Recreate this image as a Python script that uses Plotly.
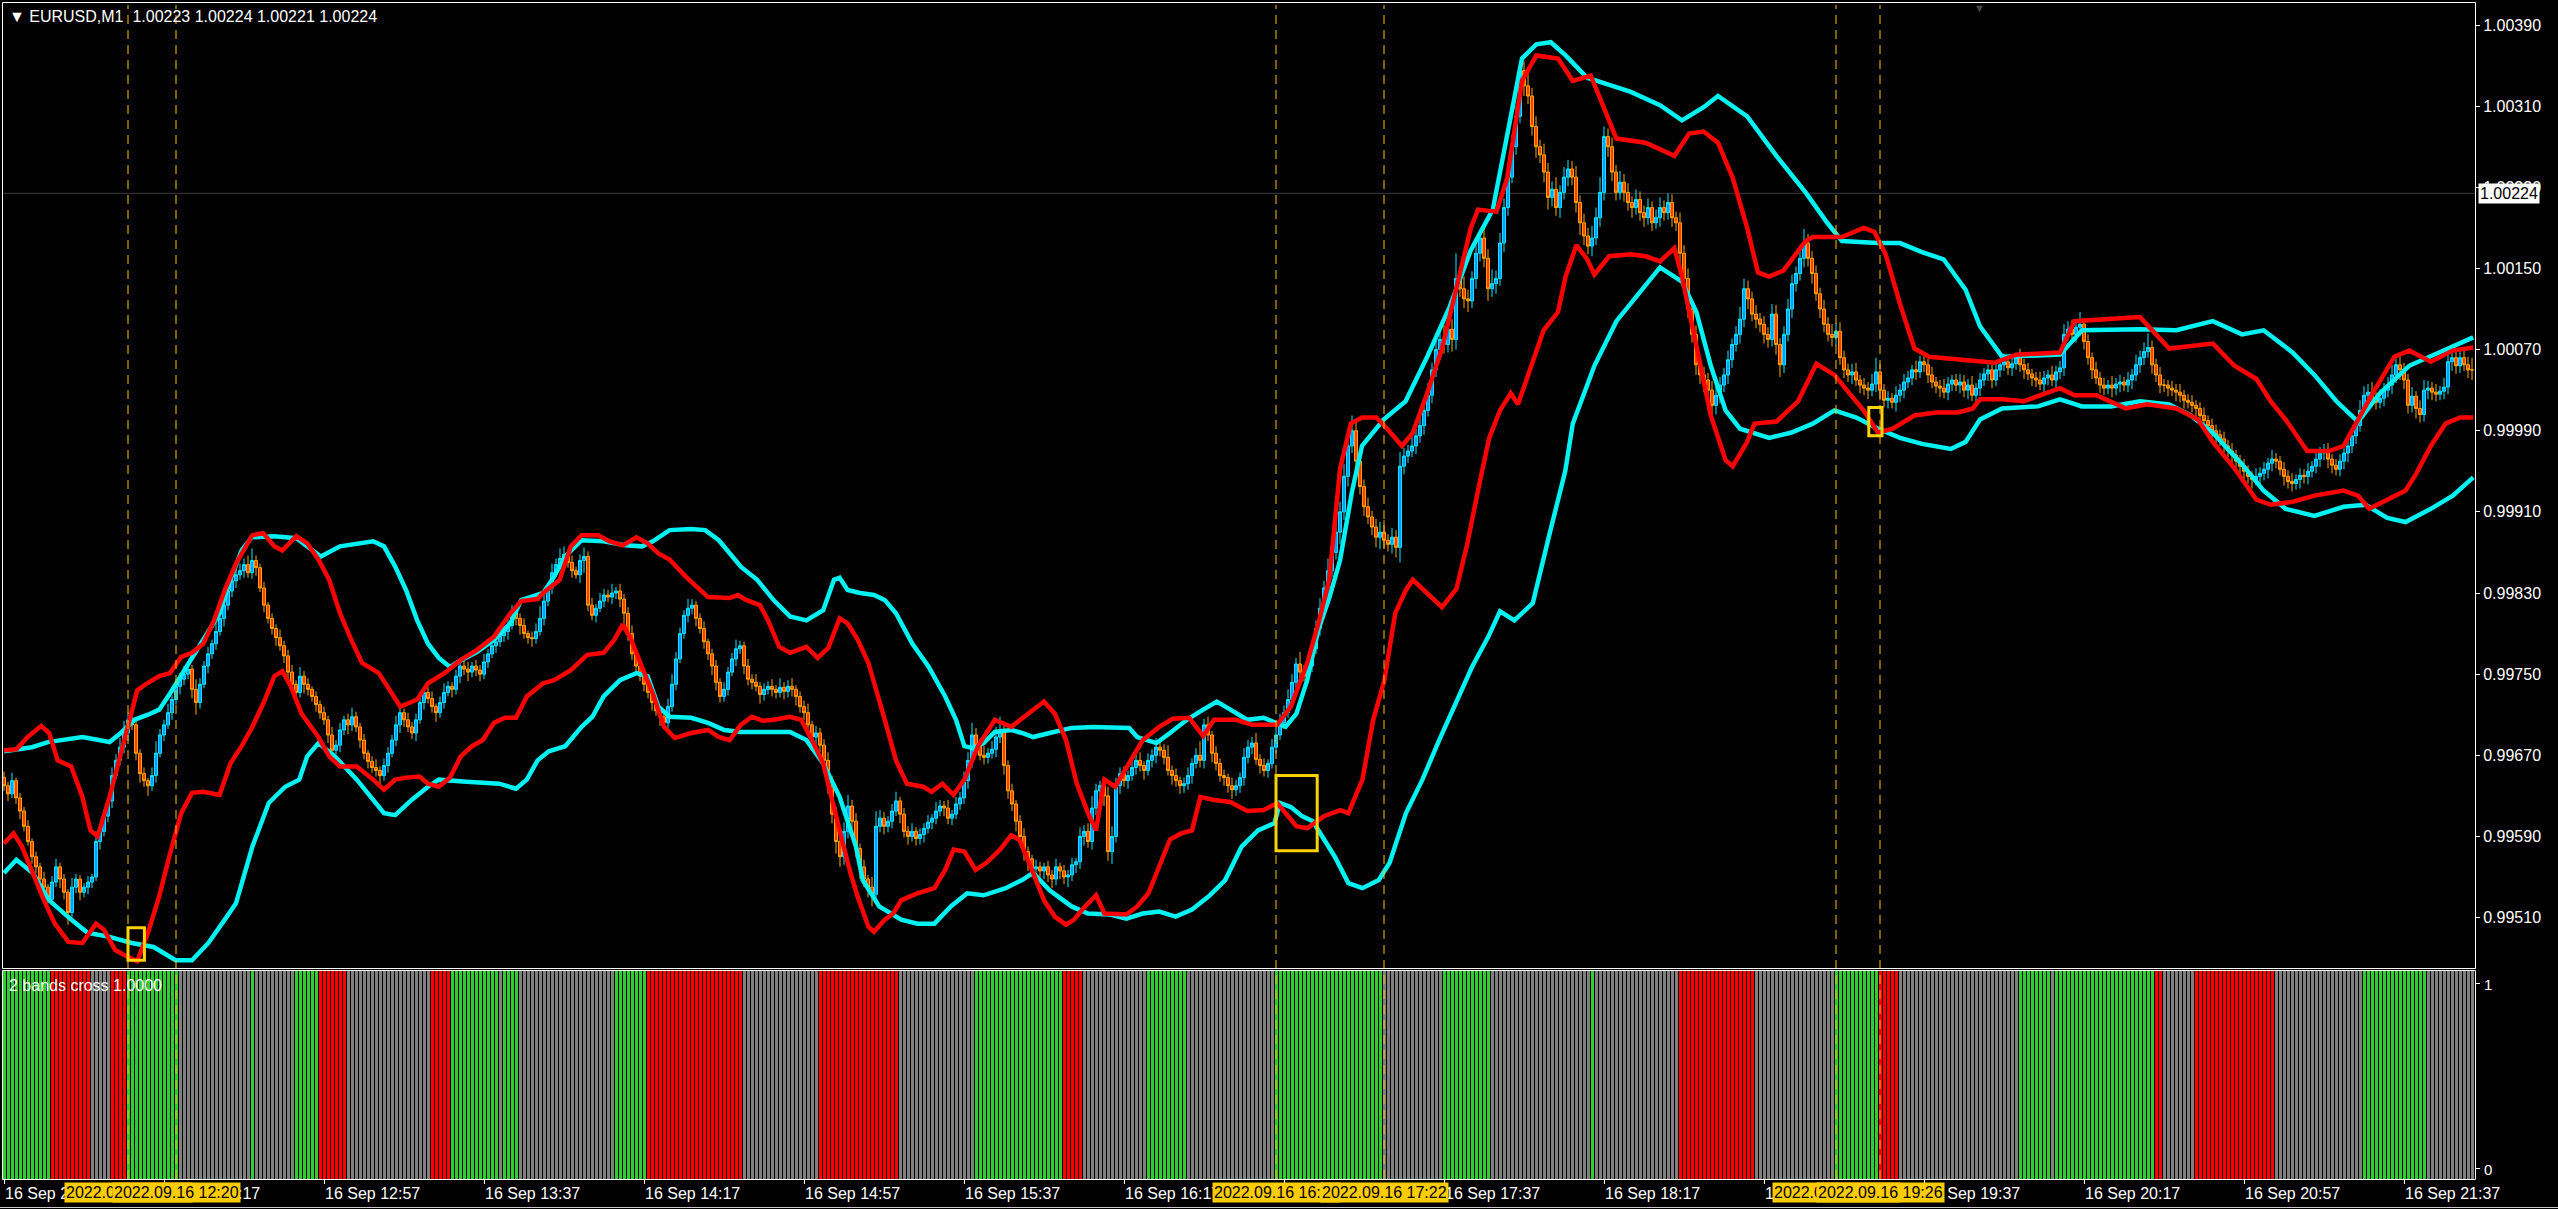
import plotly.graph_objects as go

W, H = 2558, 1209


def px(x):
    return x / W


def py(y):
    return 1 - y / H


def to_price(p):
    return round(0.99 + p * 1e-5, 6)


# ---------------- data (prices in points above 0.99000) ----------------
first_open_pts = 648
close_pts = [
    640, 632, 645, 628, 615, 600, 585, 570, 560, 548, 540, 528, 545, 560, 548, 535, 515, 540, 548, 535,
    540, 545, 550, 585, 595, 610, 625, 650, 665, 678, 692, 705, 700, 672, 652, 645, 640, 650, 672, 690,
    700, 712, 725, 738, 745, 750, 755, 735, 722, 740, 758, 770, 780, 792, 805, 818, 832, 842, 848, 852,
    858, 850, 862, 855, 835, 818, 805, 795, 786, 778, 768, 752, 740, 732, 748, 740, 735, 728, 720, 712,
    705, 690, 675, 680, 695, 705, 700, 708, 698, 685, 672, 664, 658, 655, 650, 660, 672, 685, 700, 712,
    705, 698, 692, 705, 722, 732, 726, 718, 712, 722, 732, 738, 735, 748, 758, 755, 752, 758, 754, 750,
    762, 770, 778, 782, 788, 792, 798, 812, 805, 798, 790, 786, 785, 792, 805, 822, 835, 850, 858, 864,
    868, 860, 852, 848, 862, 866, 818, 808, 815, 822, 828, 826, 830, 832, 824, 810, 790, 770, 758, 748,
    740, 732, 722, 714, 708, 702, 718, 740, 765, 790, 808, 815, 818, 805, 795, 782, 770, 758, 742, 728,
    735, 752, 765, 775, 778, 758, 745, 742, 738, 730, 735, 738, 735, 732, 737, 733, 738, 735, 728, 718,
    712, 700, 688, 692, 680, 665, 640, 612, 585, 570, 595, 620, 605, 578, 560, 548, 540, 533, 600, 608,
    600, 605, 615, 625, 612, 595, 590, 595, 588, 592, 598, 604, 608, 615, 620, 618, 608, 612, 622, 628,
    645, 665, 690, 680, 670, 668, 672, 676, 688, 694, 660, 635, 622, 605, 590, 575, 568, 558, 560, 556,
    560, 552, 548, 560, 556, 550, 552, 562, 565, 590, 595, 585, 618, 635, 640, 630, 575, 590, 640, 652,
    645, 650, 658, 665, 660, 655, 665, 670, 678, 675, 668, 655, 650, 645, 640, 642, 650, 662, 670, 665,
    700, 690, 672, 662, 650, 648, 640, 636, 640, 648, 668, 678, 682, 666, 660, 655, 662, 678, 690, 702,
    712, 725, 742, 760, 752, 748, 758, 775, 795, 815, 835, 852, 870, 890, 910, 945, 975, 990, 960, 935,
    915, 905, 895, 885, 890, 882, 878, 885, 875, 955, 965, 970, 975, 985, 995, 1010, 1025, 1050, 1070, 1080,
    1075, 1090, 1080, 1140, 1130, 1120, 1118, 1140, 1165, 1180, 1160, 1130, 1135, 1140, 1175, 1210, 1240, 1270, 1300, 1345,
    1330, 1320, 1290, 1270, 1262, 1245, 1220, 1228, 1210, 1225, 1240, 1248, 1240, 1215, 1195, 1182, 1172, 1180, 1200, 1225,
    1280, 1270, 1245, 1225, 1235, 1225, 1215, 1210, 1218, 1205, 1200, 1210, 1195, 1200, 1210, 1205, 1215, 1200, 1195, 1165,
    1140, 1110, 1085, 1055, 1045, 1040, 1030, 1015, 1025, 1035, 1045, 1060, 1075, 1085, 1100, 1130, 1120, 1105, 1100, 1095,
    1085, 1080, 1105, 1075, 1055, 1085, 1110, 1135, 1145, 1160, 1175, 1160, 1145, 1125, 1110, 1095, 1085, 1082, 1088, 1062,
    1050, 1045, 1048, 1040, 1035, 1032, 1030, 1036, 1048, 1030, 1020, 1022, 1018, 1025, 1030, 1038, 1042, 1050, 1048, 1058,
    1055, 1045, 1038, 1034, 1032, 1028, 1036, 1040, 1035, 1038, 1030, 1035, 1025, 1032, 1040, 1046, 1050, 1040, 1050, 1055,
    1058, 1052, 1056, 1062, 1055, 1050, 1046, 1042, 1040, 1036, 1042, 1045, 1040, 1048, 1052, 1085, 1090, 1085, 1092, 1095,
    1078, 1062, 1050, 1042, 1035, 1032, 1035, 1032, 1036, 1038, 1035, 1040, 1045, 1055, 1062, 1068, 1072, 1055, 1045, 1035,
    1035, 1032, 1030, 1028, 1025, 1020, 1018, 1015, 1012, 1005, 1000, 995, 990, 986, 982, 975, 970, 966, 960, 955,
    950, 945, 942, 945, 948, 952, 958, 962, 960, 952, 945, 940, 938, 942, 946, 945, 950, 955, 962, 968,
    970, 962, 956, 952, 960, 968, 975, 985, 995, 1010, 1025, 1028, 1022, 1018, 1022, 1030, 1035, 1045, 1055, 1050,
    1040, 1015, 1024, 1012, 1006, 1030, 1032, 1028, 1026, 1029, 1033, 1058, 1062, 1054, 1062, 1055, 1050, 1050,
]
hi_wick_pts = [
    6, 4, 8, 3, 5, 4, 6, 3, 5, 4, 7, 3, 6, 8, 4, 5, 3, 9, 5, 4,
    4, 6, 3, 10, 5, 7, 4, 8, 6, 9, 12, 7, 10, 5, 4, 6, 3, 8, 12, 6,
    5, 9, 4, 7, 6, 8, 5, 4, 10, 6, 5, 7, 4, 9, 5, 8, 6, 12, 5, 7,
    6, 9, 12, 5, 4, 6, 3, 5, 4, 8, 5, 6, 7, 4, 9, 5, 6, 3, 5, 4,
    6, 4, 8, 5, 7, 4, 6, 9, 5, 4, 6, 3, 5, 8, 4, 7, 6, 5, 9, 6,
    4, 7, 5, 6, 8, 4, 5, 7, 3, 6, 9, 5, 4, 6, 8, 5, 7, 4, 6, 5,
    8, 5, 6, 4, 7, 5, 9, 6, 4, 5, 7, 3, 6, 8, 12, 7, 5, 9, 6, 10,
    8, 5, 7, 4, 6, 9, 5, 7, 4, 8, 6, 5, 9, 4, 7, 5, 6, 8, 4, 5,
    6, 4, 7, 5, 3, 6, 8, 10, 7, 6, 5, 9, 6, 4, 5, 7, 3, 5, 6, 4,
    7, 5, 6, 9, 5, 4, 7, 5, 8, 4, 6, 5, 7, 4, 9, 5, 6, 8, 4, 5,
    6, 9, 4, 7, 5, 6, 8, 10, 7, 12, 9, 11, 6, 8, 5, 7, 4, 10, 15, 8,
    6, 5, 7, 9, 4, 6, 5, 8, 4, 6, 5, 7, 4, 9, 6, 5, 8, 4, 7, 6,
    9, 8, 12, 7, 6, 9, 5, 8, 10, 14, 6, 5, 7, 4, 6, 8, 5, 4, 7, 5,
    4, 6, 5, 8, 4, 6, 5, 7, 4, 9, 6, 8, 12, 7, 5, 6, 9, 10, 8, 6,
    7, 5, 9, 6, 8, 4, 7, 6, 9, 5, 6, 12, 5, 7, 4, 6, 8, 5, 7, 14,
    6, 8, 4, 7, 5, 6, 4, 8, 6, 5, 9, 7, 6, 10, 5, 7, 4, 8, 6, 9,
    7, 10, 8, 6, 12, 7, 9, 6, 8, 10, 7, 12, 9, 14, 10, 12, 8, 15, 9, 10,
    7, 9, 6, 8, 10, 12, 6, 9, 7, 14, 8, 6, 9, 7, 10, 8, 12, 7, 9, 11,
    14, 8, 10, 25, 8, 12, 9, 7, 10, 8, 12, 9, 14, 8, 10, 9, 7, 12, 10, 8,
    9, 12, 8, 10, 7, 11, 9, 8, 12, 7, 10, 9, 8, 11, 7, 9, 8, 12, 10, 15,
    10, 8, 9, 7, 11, 8, 9, 6, 10, 8, 7, 9, 6, 8, 10, 7, 9, 8, 6, 10,
    8, 10, 7, 9, 6, 8, 7, 9, 10, 8, 7, 9, 6, 8, 12, 10, 8, 7, 9, 6,
    8, 7, 10, 9, 6, 8, 10, 9, 7, 8, 14, 9, 7, 8, 6, 9, 7, 10, 8, 9,
    7, 6, 8, 9, 5, 7, 6, 10, 14, 8, 6, 7, 5, 9, 6, 8, 7, 5, 9, 6,
    7, 6, 8, 5, 6, 9, 7, 5, 6, 8, 7, 6, 9, 5, 7, 6, 8, 5, 7, 6,
    8, 6, 7, 5, 9, 6, 7, 5, 6, 8, 7, 5, 9, 6, 7, 10, 8, 9, 7, 12,
    6, 7, 5, 8, 6, 7, 5, 9, 6, 7, 5, 8, 6, 10, 7, 9, 14, 7, 6, 8,
    6, 5, 7, 6, 8, 5, 6, 7, 5, 6, 8, 5, 7, 6, 5, 7, 6, 8, 5, 6,
    7, 6, 5, 8, 6, 7, 5, 9, 6, 5, 7, 6, 8, 5, 7, 6, 8, 5, 9, 6,
    7, 8, 5, 6, 7, 9, 6, 8, 7, 10, 9, 8, 10, 6, 9, 7, 8, 10, 6, 8,
    7, 6, 9, 5, 8, 10, 7, 6, 8, 5, 9, 7, 8, 6, 9, 7, 8, 12,
]
lo_wick_pts = [
    5, 7, 4, 6, 8, 5, 4, 7, 6, 5, 8, 4, 6, 5, 9, 7, 12, 5, 6, 8,
    5, 7, 6, 4, 8, 5, 6, 7, 4, 5, 6, 8, 5, 7, 9, 6, 10, 5, 7, 4,
    6, 4, 7, 5, 8, 6, 5, 9, 12, 6, 4, 7, 5, 6, 4, 8, 5, 6, 7, 5,
    7, 5, 6, 8, 4, 7, 5, 6, 8, 5, 7, 6, 4, 8, 5, 9, 6, 5, 7, 6,
    5, 8, 6, 4, 7, 5, 9, 6, 5, 8, 6, 7, 5, 6, 9, 5, 7, 4, 6, 8,
    7, 5, 6, 8, 4, 7, 5, 6, 9, 5, 6, 4, 8, 5, 7, 6, 9, 5, 6, 7,
    5, 6, 4, 7, 5, 6, 8, 4, 7, 9, 5, 6, 8, 5, 4, 7, 5, 6, 4, 5,
    6, 5, 7, 4, 8, 12, 6, 5, 7, 4, 6, 5, 7, 6, 8, 10, 7, 6, 8, 5,
    7, 6, 8, 5, 9, 6, 7, 5, 6, 4, 5, 7, 6, 8, 5, 7, 6, 9, 8, 6,
    5, 6, 4, 7, 5, 8, 6, 7, 5, 9, 6, 5, 7, 6, 5, 8, 6, 7, 9, 6,
    7, 8, 6, 9, 7, 10, 8, 9, 12, 10, 8, 7, 10, 9, 12, 8, 10, 12, 7, 6,
    8, 6, 7, 5, 9, 6, 8, 5, 7, 6, 8, 5, 7, 6, 5, 8, 6, 7, 5, 6,
    6, 8, 7, 9, 5, 7, 6, 5, 8, 6, 9, 8, 7, 10, 6, 9, 12, 8, 7, 6,
    8, 7, 9, 6, 8, 7, 10, 6, 8, 7, 9, 6, 8, 7, 6, 10, 9, 12, 6, 8,
    6, 8, 5, 7, 6, 9, 5, 7, 8, 6, 7, 5, 9, 6, 8, 7, 6, 8, 5, 7,
    8, 6, 9, 7, 6, 8, 7, 9, 6, 7, 8, 6, 7, 5, 8, 6, 7, 5, 6, 5,
    6, 5, 7, 6, 8, 5, 7, 6, 5, 7, 6, 8, 6, 7, 12, 8, 10, 7, 9, 8,
    9, 7, 8, 10, 12, 8, 7, 9, 10, 15, 8, 7, 6, 8, 7, 9, 6, 8, 7, 10,
    9, 8, 12, 10, 8, 9, 11, 7, 10, 8, 9, 12, 8, 10, 7, 9, 8, 6, 8, 7,
    10, 8, 9, 11, 8, 10, 12, 9, 8, 10, 7, 9, 8, 10, 12, 9, 8, 10, 7, 9,
    8, 10, 9, 8, 7, 9, 8, 10, 7, 8, 9, 7, 8, 6, 9, 8, 7, 9, 8, 10,
    10, 9, 8, 10, 9, 12, 8, 10, 9, 8, 7, 9, 8, 7, 9, 8, 10, 7, 9, 8,
    9, 8, 7, 10, 12, 8, 7, 9, 8, 7, 9, 8, 10, 7, 9, 8, 7, 9, 8, 7,
    8, 7, 9, 6, 8, 7, 9, 6, 8, 10, 7, 8, 6, 9, 7, 8, 6, 7, 8, 6,
    7, 8, 6, 7, 9, 6, 8, 7, 6, 8, 7, 9, 6, 7, 8, 6, 7, 8, 6, 7,
    6, 7, 8, 6, 7, 9, 6, 8, 7, 6, 8, 7, 6, 9, 7, 8, 6, 7, 8, 9,
    8, 7, 9, 6, 8, 7, 6, 9, 7, 8, 6, 7, 9, 6, 8, 7, 6, 9, 7, 8,
    7, 8, 6, 9, 7, 8, 6, 7, 9, 8, 7, 6, 8, 9, 7, 8, 6, 9, 7, 8,
    8, 7, 9, 6, 8, 7, 9, 8, 7, 6, 9, 7, 8, 6, 9, 7, 8, 6, 7, 8,
    7, 9, 8, 6, 7, 8, 9, 7, 8, 6, 7, 9, 8, 7, 6, 8, 7, 9, 8, 10,
    9, 8, 7, 10, 8, 7, 9, 8, 7, 6, 8, 7, 9, 8, 7, 6, 8, 10,
]

# Bands: (bar position, points)
cyan_up_x = [0, 7, 11, 19.6, 23.7, 26.4, 29.2, 32.6, 36, 38.8, 41.5, 45.6, 49.8, 53.9, 56.6, 59.4, 62, 67.6, 73.1, 77.2, 79.2, 84, 89.5, 92.3, 95, 97.8, 100.5, 103.3, 106, 108.7, 111.5, 113.5, 118.3, 122.5, 126.6, 129.3, 134.8, 137.5, 140.3, 144.4, 149.9, 155.4, 159.5, 162.2, 166.4, 171.8, 175.3, 178.7, 184.2, 188.3, 192.4, 196.5, 200.6, 204.8, 207.5, 208.9, 210.9, 214, 217.5, 220.2, 223, 227.1, 231.2, 235.3, 238, 240.1, 242.2, 244.9, 247.7, 251.8, 254.5, 257.3, 261.4, 266.9, 272.3, 277.8, 281.3, 283.3, 288.1, 291.5, 295.7, 299.8, 303.2, 306.6, 310.8, 314.9, 317.6, 320.4, 323.1, 325.8, 328.6, 331.3, 334, 337, 339.5, 344.9, 350.4, 355.8, 361.3, 366.7, 372.2, 375.8, 379.5, 383.1, 386.7, 390.4, 395.8, 401.3, 406.7, 414, 419.5, 424.9, 428.5, 435.8, 443.1, 450.4, 455.8, 459.5, 468.5, 474, 479.5, 484.9, 490.4, 494, 499.5, 514, 519.5, 534, 543.1, 552.2, 559.5, 564.9, 572.2, 577.6, 583.1, 588.5, 594, 601.3, 608.5, 617.3]
cyan_up_y = [674, 678, 683, 688, 685, 683, 692, 705, 710, 715, 731, 757, 784, 810, 843, 872, 885, 886, 884, 871, 866, 876, 879, 881, 876, 856, 833, 803, 780, 766, 757, 762, 772, 784, 800, 823, 830, 846, 866, 882, 881, 877, 876, 881, 892, 893, 892, 882, 856, 843, 823, 807, 803, 813, 843, 845, 833, 830, 828, 823, 810, 780, 757, 728, 705, 679, 677, 682, 693, 695, 692, 688, 692, 697, 698, 698, 697, 688, 682, 692, 705, 715, 723, 715, 705, 707, 702, 698, 711, 744, 794, 825, 862, 930, 975, 1001, 1019, 1063, 1111, 1168, 1208, 1283, 1357, 1371, 1373, 1360, 1338, 1331, 1324, 1311, 1296, 1309, 1320, 1300, 1261, 1225, 1195, 1177, 1175, 1175, 1166, 1159, 1129, 1093, 1063, 1065, 1089, 1090, 1089, 1098, 1085, 1089, 1067, 1045, 1019, 999, 1027, 1054, 1067, 1082]

cyan_lo_x = [0, 3.1, 7.2, 11.3, 16.8, 20.9, 26.4, 31.9, 37.4, 42.9, 47, 51.1, 55.2, 58, 62.1, 66.2, 70.3, 73.8, 75.8, 78.6, 82.7, 88.2, 92.3, 95, 97.8, 101.9, 106, 108.7, 115.6, 123.8, 128, 130.7, 133.4, 136.2, 140.3, 144.4, 147.1, 149.9, 154, 158.1, 160.9, 163.6, 166.4, 171.8, 176, 180.1, 184.2, 191, 196.5, 200.6, 204.8, 208.9, 213, 214.7, 218.8, 224.3, 228.4, 232.6, 236.7, 240.8, 244.9, 250.4, 254.5, 257.3, 261.4, 266.9, 271, 276.5, 280.6, 284.7, 288.8, 292.9, 297, 301.2, 305.3, 309.4, 313.5, 317.6, 319, 321.7, 324.5, 327.2, 330, 332.7, 336.1, 339.6, 343.7, 346.4, 350.5, 354.6, 358.8, 362.9, 367, 371.1, 374, 377.6, 382.2, 386.5, 390.3, 392.2, 397.6, 403.1, 408.5, 414, 419.5, 423.1, 426.7, 430.4, 434, 441.3, 446.7, 452.2, 457.6, 463.1, 468.5, 474, 479.5, 486.7, 490.4, 494, 499.5, 508.5, 514, 519.5, 526.7, 534, 541.3, 546.7, 552.2, 559.5, 564.9, 570.4, 577.6, 584.9, 590.4, 595.8, 600.4, 606.7, 612.2, 617.3]
cyan_lo_y = [554, 567, 554, 527, 508, 495, 491, 485, 481, 468, 468, 485, 508, 524, 580, 623, 639, 646, 669, 682, 669, 646, 626, 613, 611, 626, 639, 646, 644, 642, 637, 646, 665, 674, 679, 698, 708, 728, 744, 751, 748, 718, 708, 707, 702, 695, 693, 693, 693, 685, 662, 629, 580, 547, 521, 508, 504, 504, 521, 534, 532, 539, 547, 554, 537, 521, 514, 513, 509, 514, 516, 511, 518, 531, 547, 580, 596, 603, 623, 619, 610, 605, 587, 570, 544, 539, 547, 564, 613, 646, 685, 721, 757, 787, 812, 803, 820, 890, 950, 997, 1054, 1098, 1124, 1151, 1137, 1107, 1054, 1010, 992, 983, 988, 997, 1010, 1003, 992, 983, 977, 972, 979, 1001, 1012, 1014, 1021, 1014, 1014, 1019, 1016, 1005, 988, 957, 931, 913, 906, 915, 917, 904, 900, 913, 926, 944]

red_up_x = [0, 3.1, 5.9, 9.3, 11.3, 13.4, 16.8, 19.6, 21.6, 23.4, 26.4, 28.5, 31.2, 33.3, 35.4, 38.8, 41.5, 44.3, 47, 49.8, 52.5, 55.2, 58, 62.1, 64.8, 67.6, 69.6, 73.1, 75.8, 78.6, 81.3, 84, 86.8, 89.5, 93.7, 96.4, 99.1, 103.3, 106, 110.1, 114.2, 118.3, 122.5, 126.6, 129.3, 133.4, 134.8, 138.9, 141.7, 144.4, 148.5, 151.3, 154.7, 158.1, 160.9, 163.6, 166.4, 170.5, 176, 181.4, 183.5, 185.6, 189, 191, 193.8, 196.5, 200.6, 203.4, 206.1, 208.9, 210.9, 213.4, 216.1, 220.2, 223, 225.7, 229.8, 231.9, 234.6, 237.4, 240.1, 243.5, 247.7, 251.8, 255.9, 260, 262.7, 265.5, 268.2, 271, 273, 275.1, 277.8, 281.3, 284.7, 288.8, 292.2, 296.3, 299.8, 302.5, 308, 312.1, 318.3, 321.7, 325.8, 328.6, 331.3, 334, 336.7, 339.5, 343.1, 345.8, 349.5, 352.2, 355.8, 359.5, 363.1, 366.7, 368.5, 373.1, 375.8, 379.5, 383.1, 388.5, 392.2, 396.7, 399.5, 403.1, 410.4, 414, 417.6, 421.3, 424.9, 428.5, 432.2, 435.8, 438.5, 441.3, 444.9, 450.4, 452.2, 459.5, 464.9, 467.6, 470.4, 474, 477.6, 481.3, 497.6, 503.1, 514, 517.6, 524.9, 534, 541.3, 546.7, 552.2, 557.6, 563.1, 566.7, 570.4, 575.8, 581.3, 584.9, 588.5, 592.2, 597.6, 601.3, 606.7, 612.2, 617.3]
red_up_y = [675, 676, 688, 699, 692, 665, 659, 629, 596, 590, 629, 662, 705, 734, 740, 748, 751, 767, 771, 780, 803, 833, 859, 887, 889, 876, 872, 886, 879, 863, 843, 810, 784, 761, 751, 734, 718, 725, 741, 751, 764, 774, 787, 810, 822, 824, 830, 843, 876, 887, 887, 881, 877, 885, 879, 869, 863, 846, 826, 825, 828, 823, 818, 803, 777, 771, 777, 766, 776, 805, 800, 784, 761, 705, 665, 642, 639, 634, 642, 631, 646, 679, 705, 698, 711, 723, 711, 685, 642, 613, 596, 646, 639, 662, 685, 698, 706, 707, 689, 705, 705, 700, 700, 718, 761, 800, 843, 952, 997, 1003, 1003, 992, 975, 988, 1027, 1071, 1129, 1190, 1208, 1206, 1239, 1335, 1360, 1357, 1335, 1340, 1313, 1278, 1274, 1267, 1261, 1283, 1285, 1274, 1239, 1190, 1146, 1142, 1148, 1177, 1181, 1181, 1190, 1186, 1164, 1115, 1071, 1063, 1057, 1065, 1067, 1098, 1100, 1102, 1071, 1074, 1076, 1054, 1041, 1019, 1001, 970, 970, 975, 1001, 1027, 1063, 1069, 1058, 1069, 1072]

red_lo_x = [0, 2.4, 4.5, 7.2, 10, 12.7, 16.1, 19.6, 23, 25, 27.8, 30.6, 33.3, 36, 38.8, 41.5, 44.3, 47, 49.8, 53.9, 56.6, 59.4, 62.1, 64.8, 67.6, 69.6, 71.7, 74.4, 78.6, 81.3, 84, 88.2, 92.3, 95, 97.8, 100.5, 103.9, 106, 108.7, 111.5, 114.2, 117, 119.7, 122.5, 125.2, 128, 130.7, 134.8, 137.5, 141.7, 145.8, 149.9, 152.6, 154.7, 156.8, 159.5, 162.2, 165, 167.7, 171.8, 176, 178.7, 181.4, 184.2, 187, 189.7, 192.4, 196.5, 199.3, 202, 204.8, 208.9, 211.6, 213.4, 216.1, 217.5, 220.2, 222.3, 224.3, 228.4, 232.6, 235.3, 237.4, 240.1, 242.9, 245.6, 249, 251.8, 253.8, 257.3, 260, 262.7, 265.5, 267.5, 269.6, 273, 275.1, 280.6, 283.3, 286.1, 288.8, 291.5, 294.3, 297, 299.1, 302.5, 306.6, 310.8, 314.9, 318.3, 323.1, 325.8, 330, 334.1, 336.1, 339.6, 342.3, 345.1, 347.8, 350.5, 352.2, 355.8, 359.5, 363.1, 365.8, 368.5, 371.3, 374, 376.7, 378.5, 381.3, 384.9, 388.5, 390.4, 393.1, 395.8, 397.6, 401.3, 406.7, 410.4, 414, 417.6, 419.5, 423.1, 426.7, 430.4, 432.2, 435.8, 437.6, 443.1, 448.5, 453.1, 457.6, 461.3, 464.9, 468.5, 472.2, 477.6, 483.1, 488.5, 492.2, 494, 499.5, 504.9, 510.4, 514, 517.6, 523.1, 530.4, 535.8, 543.1, 548.5, 552.2, 557.6, 563.1, 566.7, 572.2, 577.6, 584.9, 588.5, 591.3, 595.8, 600.4, 603.1, 606.7, 610.4, 614, 617.3]
red_lo_y = [583, 593, 580, 554, 527, 504, 486, 485, 504, 498, 478, 472, 467, 495, 531, 573, 613, 633, 634, 631, 662, 679, 698, 721, 748, 753, 738, 711, 688, 669, 659, 659, 646, 636, 646, 648, 649, 642, 639, 648, 669, 679, 685, 702, 707, 707, 728, 741, 744, 754, 769, 771, 784, 799, 784, 757, 731, 698, 687, 692, 695, 688, 685, 700, 708, 704, 705, 708, 705, 685, 662, 596, 554, 531, 501, 496, 508, 514, 527, 534, 539, 557, 577, 575, 557, 564, 577, 591, 587, 554, 527, 511, 503, 508, 518, 532, 514, 513, 521, 534, 560, 587, 593, 596, 629, 626, 624, 615, 616, 623, 600, 598, 610, 616, 613, 646, 705, 744, 810, 833, 843, 829, 816, 834, 878, 931, 983, 1010, 1027, 1016, 1049, 1089, 1107, 1142, 1173, 1159, 1144, 1162, 1164, 1162, 1157, 1170, 1142, 1071, 1005, 961, 955, 979, 997, 999, 1019, 1056, 1045, 1027, 1010, 988, 992, 1005, 1008, 1008, 1012, 1021, 1021, 1019, 1027, 1032, 1025, 1025, 1012, 1016, 1012, 1001, 979, 953, 922, 917, 920, 926, 931, 926, 913, 922, 931, 948, 975, 997, 1003, 1003]

# "2 bands cross" indicator: state runs (G=green, R=red, N=neutral gray)
sig_state = ["G", "R", "N", "R", "G", "N", "G", "N", "G", "R", "N", "R", "G", "N", "G", "N", "G", "R", "N", "R",
             "N", "G", "R", "N", "G", "N", "G", "N", "G", "N", "G", "N", "R", "N", "G", "R", "N", "G", "N", "G",
             "R", "N", "R", "N", "G", "N"]
sig_len = [12, 10, 5, 4, 13, 18, 1, 10, 6, 7, 21, 5, 12, 1, 4, 24, 8, 24, 19, 20,
           19, 22, 5, 16, 10, 22, 27, 15, 12, 25, 1, 21, 19, 20, 11, 5, 30, 8, 1, 25,
           2, 8, 20, 22, 16, 12]
sig_colors = {"G": "#32CD32", "R": "#FF0000", "N": "#808080"}

time_tick_bars = [0, 40, 80, 120, 160, 200, 240, 280, 320, 360, 400, 440, 480, 520, 560, 600]
time_tick_labels = ["16 Sep 2022", "16 Sep 12:17", "16 Sep 12:57", "16 Sep 13:37", "16 Sep 14:17", "16 Sep 14:57",
                    "16 Sep 15:37", "16 Sep 16:17", "16 Sep 16:57", "16 Sep 17:37", "16 Sep 18:17", "16 Sep 18:57",
                    "16 Sep 19:37", "16 Sep 20:17", "16 Sep 20:57", "16 Sep 21:37"]

vline_bars = [31, 43, 318, 345, 458, 469]
vline_labels = ["2022.09.16 12:08", "2022.09.16 12:20", "2022.09.16 16:55", "2022.09.16 17:22",
                "2022.09.16 19:15", "2022.09.16 19:26"]

# highlight rectangles: bar range and price range (points)
box_x0 = [31, 318, 466.2]
box_x1 = [35.1, 328.3, 469.5]
box_p0 = [468, 576, 985]
box_p1 = [500, 650, 1013]

price_ticks = [1.00390, 1.00310, 1.00230, 1.00150, 1.00070, 0.99990, 0.99910, 0.99830, 0.99750, 0.99670, 0.99590, 0.99510]
current_price = 1.00224
title_text = "EURUSD,M1  1.00223 1.00224 1.00221 1.00224"
indicator_name = "2 bands cross 1.0000"

# ---------------- derived ----------------
n = len(close_pts)
assert len(hi_wick_pts) == n and len(lo_wick_pts) == n, (n, len(hi_wick_pts), len(lo_wick_pts))
assert sum(sig_len) == n, sum(sig_len)
assert len(cyan_up_x) == len(cyan_up_y), (len(cyan_up_x), len(cyan_up_y))
assert len(cyan_lo_x) == len(cyan_lo_y), (len(cyan_lo_x), len(cyan_lo_y))
assert len(red_up_x) == len(red_up_y), (len(red_up_x), len(red_up_y))
assert len(red_lo_x) == len(red_lo_y), (len(red_lo_x), len(red_lo_y))

bars = list(range(n))
open_pts = [first_open_pts] + close_pts[:-1]
high_pts = [max(o, c) + h for o, c, h in zip(open_pts, close_pts, hi_wick_pts)]
low_pts = [min(o, c) - l for o, c, l in zip(open_pts, close_pts, lo_wick_pts)]

sig_bar_colors = []
for s, k in zip(sig_state, sig_len):
    sig_bar_colors += [sig_colors[s]] * k

FONT = "Liberation Sans, Arial, sans-serif"
fig = go.Figure()

fig.add_trace(go.Candlestick(
    x=bars,
    open=[to_price(v) for v in open_pts],
    high=[to_price(v) for v in high_pts],
    low=[to_price(v) for v in low_pts],
    close=[to_price(v) for v in close_pts],
    increasing=dict(line=dict(color="#00E8FF", width=1), fillcolor="#1E90FF"),
    decreasing=dict(line=dict(color="#FFA500", width=1), fillcolor="#FF3A00"),
    whiskerwidth=0, hoverinfo="skip", showlegend=False, xaxis="x", yaxis="y"))

for xs, ys, col in [(cyan_up_x, cyan_up_y, "#00F2F2"), (cyan_lo_x, cyan_lo_y, "#00F2F2"),
                    (red_up_x, red_up_y, "#FF0000"), (red_lo_x, red_lo_y, "#FF0000")]:
    fig.add_trace(go.Scatter(x=xs, y=[to_price(v) for v in ys], mode="lines",
                             line=dict(color=col, width=4.5), hoverinfo="skip",
                             showlegend=False, xaxis="x", yaxis="y"))

fig.add_trace(go.Bar(x=bars, y=[1] * n, marker=dict(color=sig_bar_colors, line=dict(width=0)),
                     width=0.75, hoverinfo="skip", showlegend=False, xaxis="x2", yaxis="y2"))

X0, X1 = 2, 2475
MAIN_TOP, MAIN_BOT = 3, 968
IND_TOP, IND_BOT = 971, 1179
xr = [-0.5, -0.5 + (X1 - X0) / 4.0]
p_top = 1.00390 + (25 - MAIN_TOP) / 101430.0
p_bot = 1.00390 - (MAIN_BOT - 25) / 101430.0

shapes = []
# current price line
shapes.append(dict(type="line", xref="paper", yref="y", x0=px(X0), x1=px(X1), y0=current_price, y1=current_price,
                   line=dict(color="#3A3A3A", width=1), layer="below"))
# vertical dashed lines
for b in vline_bars:
    shapes.append(dict(type="line", xref="x", yref="paper", x0=b, x1=b, y0=py(IND_BOT), y1=py(MAIN_TOP + 2),
                       line=dict(color="#FFC400", width=1, dash="9px,6px")))
# highlight rectangles
for a, b, c, d in zip(box_x0, box_x1, box_p0, box_p1):
    shapes.append(dict(type="rect", xref="x", yref="y", x0=a, x1=b, y0=to_price(c), y1=to_price(d),
                       line=dict(color="#FFD200", width=3), fillcolor="rgba(0,0,0,0)"))
# panel frames
shapes.append(dict(type="rect", xref="paper", yref="paper", x0=px(2.5), x1=px(X1 + 0.5),
                   y0=py(MAIN_BOT + 0.5), y1=py(2.5), line=dict(color="#FFFFFF", width=1)))
shapes.append(dict(type="rect", xref="paper", yref="paper", x0=px(2.5), x1=px(X1 + 0.5),
                   y0=py(IND_BOT + 0.5), y1=py(IND_TOP - 0.5), line=dict(color="#FFFFFF", width=1)))
shapes.append(dict(type="line", xref="paper", yref="paper", x0=0, x1=1, y0=py(1207.5), y1=py(1207.5),
                   line=dict(color="#C8C8C8", width=1)))

ann = []
ann.append(dict(text="\u25BC\u00a0" + title_text.replace(" ", "\u00a0"), xref="paper", yref="paper",
                x=px(7), y=py(16), xanchor="left", yanchor="middle", showarrow=False,
                font=dict(family=FONT, size=16, color="#FFFFFF")))
ann.append(dict(text=indicator_name.replace(" ", "\u00a0"), xref="paper", yref="paper",
                x=px(7), y=py(985), xanchor="left", yanchor="middle", showarrow=False,
                font=dict(family=FONT, size=16, color="#FFFFFF")))
ann.append(dict(text="\u25BC", xref="paper", yref="paper", x=px(1979), y=py(8), xanchor="center",
                yanchor="middle", showarrow=False, font=dict(family=FONT, size=11, color="#4A4A4A")))
ann.append(dict(text="1", xref="paper", yref="paper", x=px(2482), y=py(984), xanchor="left",
                yanchor="middle", showarrow=False, font=dict(family=FONT, size=15, color="#FFFFFF")))
ann.append(dict(text="0", xref="paper", yref="paper", x=px(2482), y=py(1169), xanchor="left",
                yanchor="middle", showarrow=False, font=dict(family=FONT, size=15, color="#FFFFFF")))
for b, t in zip(time_tick_bars, time_tick_labels):
    ann.append(dict(text=t.replace(" ", "\u00a0"), xref="x", yref="paper", x=b, y=py(1193),
                    xanchor="left", yanchor="middle", showarrow=False, xshift=-1,
                    font=dict(family=FONT, size=16, color="#FFFFFF")))
for b, t in zip(vline_bars, vline_labels):
    ann.append(dict(text=t.replace(" ", "\u00a0"), xref="x", yref="paper", x=b, y=py(1192),
                    xanchor="center", yanchor="middle", showarrow=False, bgcolor="#FFCC00",
                    borderpad=1, font=dict(family=FONT, size=16, color="#000000")))
ann.append(dict(text=f"{current_price:.5f}", xref="paper", yref="y", x=px(2478), y=current_price,
                xanchor="left", yanchor="middle", showarrow=False, bgcolor="#FFFFFF", borderpad=1,
                font=dict(family=FONT, size=16, color="#000000")))

fig.update_layout(
    width=W, height=H, autosize=False,
    margin=dict(l=0, r=0, t=0, b=0),
    paper_bgcolor="#000000", plot_bgcolor="#000000",
    showlegend=False, boxgap=0.25, boxgroupgap=0, bargap=0,
    xaxis=dict(domain=[px(X0), px(X1)], range=xr, anchor="y", visible=False,
               rangeslider=dict(visible=False), fixedrange=True),
    xaxis2=dict(domain=[px(X0), px(X1)], range=xr, anchor="y2", matches="x",
                showgrid=False, zeroline=False, showline=False,
                tickmode="array", tickvals=time_tick_bars, ticktext=[""] * len(time_tick_bars),
                ticks="outside", ticklen=4, tickcolor="#FFFFFF", showticklabels=False),
    yaxis=dict(domain=[py(MAIN_BOT), py(MAIN_TOP)], range=[p_bot, p_top], side="right", anchor="x",
               showgrid=False, zeroline=False, showline=False,
               tickmode="array", tickvals=price_ticks, ticktext=[f"{v:.5f}" for v in price_ticks],
               ticks="outside", ticklen=4, tickcolor="#FFFFFF",
               tickfont=dict(family=FONT, size=16, color="#FFFFFF")),
    yaxis2=dict(domain=[py(IND_BOT), py(IND_TOP)], range=[0, 1], side="right", anchor="x2",
                showgrid=False, zeroline=False, showline=False,
                tickmode="array", tickvals=[0.05, 0.94], ticktext=["", ""],
                ticks="outside", ticklen=4, tickcolor="#FFFFFF"),
    shapes=shapes, annotations=ann,
)

fig.write_html("out.html", config={"displayModeBar": False, "staticPlot": True},
               post_script="document.body.style.margin='0';document.body.style.background='#000';")
